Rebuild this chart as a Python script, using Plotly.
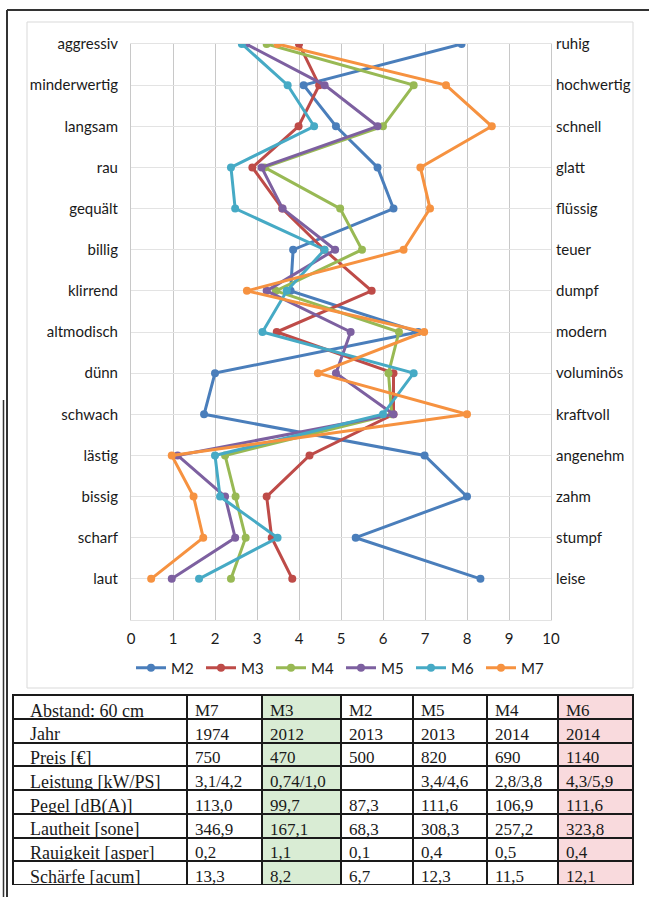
import plotly.graph_objects as go

W, H = 649, 897

left_labels = ["aggressiv", "minderwertig", "langsam", "rau", "gequält", "billig", "klirrend",
               "altmodisch", "dünn", "schwach", "lästig", "bissig", "scharf", "laut"]
right_labels = ["ruhig", "hochwertig", "schnell", "glatt", "flüssig", "teuer", "dumpf",
                "modern", "voluminös", "kraftvoll", "angenehm", "zahm", "stumpf", "leise"]
positions = list(range(14, 0, -1))

series_names = ["M2", "M3", "M4", "M5", "M6", "M7"]
M2 = [7.87, 4.11, 4.88, 5.87, 6.25, 3.86, 3.80, 6.84, 2.00, 1.74, 6.99, 8.00, 5.35, 8.32]
M3 = [4.00, 4.48, 3.99, 2.89, 3.60, 4.60, 5.73, 3.47, 6.25, 6.25, 4.25, 3.23, 3.35, 3.84]
M4 = [3.23, 6.73, 6.00, 3.18, 4.98, 5.50, 3.45, 6.38, 6.13, 6.21, 2.24, 2.49, 2.73, 2.38]
M5 = [2.74, 4.61, 5.87, 3.11, 3.61, 4.86, 3.23, 5.23, 4.88, 6.25, 1.11, 2.24, 2.48, 0.97]
M6 = [2.64, 3.73, 4.36, 2.38, 2.48, 4.61, 3.71, 3.13, 6.73, 6.00, 2.00, 2.12, 3.49, 1.62]
M7 = [3.49, 7.50, 8.59, 6.89, 7.12, 6.49, 2.76, 6.98, 4.45, 8.00, 0.97, 1.49, 1.72, 0.48]
series_values = [M2, M3, M4, M5, M6, M7]
colors = ["#4a7ebb", "#be4b48", "#98b954", "#7d60a0", "#46aac5", "#f69240"]

x_ticks = list(range(0, 11))

# table data
table_header = ["Abstand: 60 cm", "M7", "M3", "M2", "M5", "M4", "M6"]
row_labels = ["Jahr", "Preis [€]", "Leistung [kW/PS]", "Pegel [dB(A)]", "Lautheit [sone]",
              "Rauigkeit [asper]", "Schärfe [acum]"]
col_M7 = ["1974", "750", "3,1/4,2", "113,0", "346,9", "0,2", "13,3"]
col_M3 = ["2012", "470", "0,74/1,0", "99,7", "167,1", "1,1", "8,2"]
col_M2 = ["2013", "500", "", "87,3", "68,3", "0,1", "6,7"]
col_M5 = ["2013", "820", "3,4/4,6", "111,6", "308,3", "0,4", "12,3"]
col_M4 = ["2014", "690", "2,8/3,8", "106,9", "257,2", "0,5", "11,5"]
col_M6 = ["2014", "1140", "4,3/5,9", "111,6", "323,8", "0,4", "12,1"]
table_cols = [row_labels, col_M7, col_M3, col_M2, col_M5, col_M4, col_M6]

def px_x(p):
    return p / W

def px_y(p):
    return 1 - p / H

fig = go.Figure()
for name, vals, c in zip(series_names, series_values, colors):
    fig.add_trace(go.Scatter(
        x=vals, y=positions, name=name, mode="lines+markers",
        line=dict(color=c, width=3), marker=dict(color=c, size=8, symbol="circle"),
        xaxis="x", yaxis="y", hoverinfo="skip"))
fig.add_trace(go.Scatter(x=[None], y=[None], xaxis="x", yaxis="y2", showlegend=False,
                         hoverinfo="skip"))

# table
white = "white"
green = "#d9ecd4"
pink = "#f9dadd"
col_fill = [white, white, green, white, white, white, pink]
n_rows = len(row_labels)
fill_cells = [[c] * n_rows for c in col_fill]

pad = "\u00a0\u00a0"
header_text = [pad + table_header[0]] + table_header[1:]
cell_text = [[pad + v for v in table_cols[0]]] + table_cols[1:]

tab_top, tab_bot = 695, 885
row_h = (tab_bot - tab_top) / 8
col_edges = [13, 187, 262, 341, 413, 487, 558, 633]
col_w = [col_edges[i + 1] - col_edges[i] for i in range(7)]
col_font = [18, 17, 17, 17, 17, 17, 17]

fig.add_trace(go.Table(
    domain=dict(x=[px_x(13), px_x(633)], y=[px_y(tab_bot), px_y(tab_top)]),
    columnwidth=col_w,
    header=dict(values=header_text, align="left", height=row_h,
                fill=dict(color=col_fill), line=dict(color="#1a1a1a", width=2),
                font=dict(family="Liberation Serif", size=col_font, color="#1a1a1a")),
    cells=dict(values=cell_text, align="left", height=row_h,
               fill=dict(color=fill_cells), line=dict(color="#1a1a1a", width=2),
               font=dict(family="Liberation Serif", size=col_font, color="#1a1a1a")),
))

grid_v = "#c8c8c8"
grid_h = "#e3e3e3"
fig.update_layout(
    width=W, height=H, margin=dict(l=0, r=0, t=0, b=0, autoexpand=False),
    paper_bgcolor="white", plot_bgcolor="white",
    font=dict(family="Lato", size=15, color="#1a1a1a"),
    xaxis=dict(domain=[px_x(131), px_x(551)], range=[0, 10], tickvals=x_ticks,
               showgrid=True, gridcolor=grid_v, gridwidth=1, zeroline=False,
               showline=True, linecolor=grid_h, mirror=True, ticks="", automargin=False,
               ticklabelstandoff=5, tickfont=dict(size=15), anchor="y", fixedrange=True),
    yaxis=dict(domain=[px_y(620), px_y(44)], range=[0, 14], tickvals=positions,
               ticktext=left_labels, showgrid=True, gridcolor=grid_h, zeroline=False,
               showline=True, linecolor=grid_v, mirror=True, ticks="", automargin=False,
               ticklabelstandoff=9, tickfont=dict(size=15), fixedrange=True),
    yaxis2=dict(overlaying="y", side="right", anchor="x", range=[0, 14], tickvals=positions,
                ticktext=right_labels, showgrid=False, zeroline=False, showline=False,
                ticks="", ticklabelstandoff=4, tickfont=dict(size=15), fixedrange=True,
                automargin=False),
    legend=dict(orientation="h", x=px_x(341), xanchor="center", y=px_y(668), yanchor="middle",
                font=dict(size=15), bgcolor="rgba(0,0,0,0)", itemwidth=30,
                entrywidth=25, entrywidthmode="pixels"),
    showlegend=True,
    shapes=[
        dict(type="rect", xref="paper", yref="paper", x0=px_x(27), x1=px_x(633),
             y0=px_y(688), y1=px_y(22), line=dict(color="#d9d9d9", width=1), layer="below"),
        dict(type="line", xref="paper", yref="paper", x0=px_x(7), x1=1, y0=px_y(10), y1=px_y(10),
             line=dict(color="#333333", width=2)),
        dict(type="line", xref="paper", yref="paper", x0=px_x(7), x1=px_x(7), y0=px_y(10), y1=0,
             line=dict(color="#333333", width=2)),
        dict(type="line", xref="paper", yref="paper", x0=px_x(3.5), x1=px_x(3.5), y0=px_y(400), y1=0,
             line=dict(color="#333333", width=1.5)),
    ],
)

fig.write_html("out.html", config={"displayModeBar": False},
               post_script="document.body.style.margin='0';")
